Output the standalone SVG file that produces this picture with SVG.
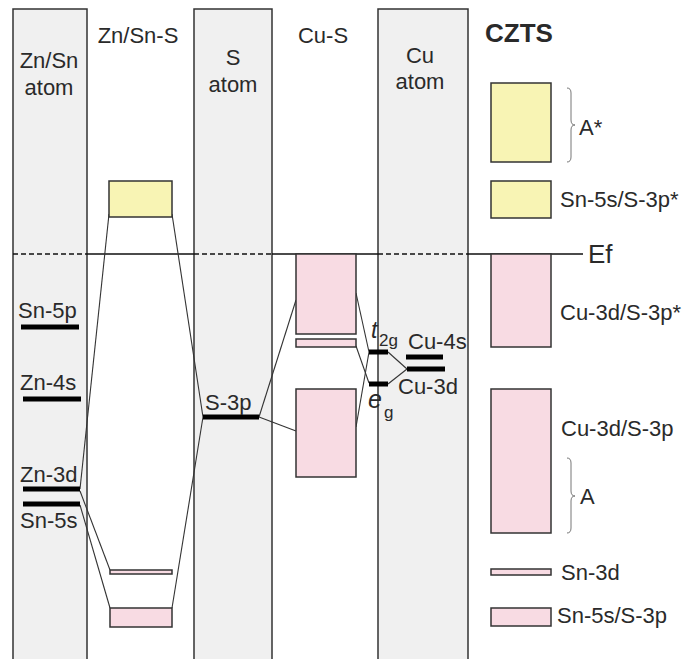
<svg xmlns="http://www.w3.org/2000/svg" width="687" height="659" viewBox="0 0 687 659">
<style>
.col{fill:#f0f0f0;stroke:#333;stroke-width:1.5}
.yel{fill:#f8f4b4;stroke:#333;stroke-width:1.5}
.pink{fill:#f8dbe3;stroke:#333;stroke-width:1.5}
.lvl{stroke:#000;stroke-width:5;fill:none}
.con{stroke:#333;stroke-width:1.1;fill:none}
.brace{stroke:#777;stroke-width:1;fill:none}
text{font-family:"Liberation Sans",Arial,sans-serif;font-size:22px;fill:#2a2a2a}
.c{text-anchor:middle}
.it{font-style:italic}
.sub{font-size:17px}
</style>
<g id="columns">
<rect id="col-znsn" class="col" x="13" y="9" width="74" height="660"/>
<rect id="col-s" class="col" x="194" y="9" width="78" height="660"/>
<rect id="col-cu" class="col" x="378" y="9" width="90" height="660"/>
</g>
<g id="ef">
<path d="M13,254H87M194,254H272M378,254H468" stroke="#111" stroke-width="1.4" stroke-dasharray="5,3"/>
<path d="M87,254H194M272,254H378M468,254H583" stroke="#111" stroke-width="1.3"/>
<text x="588" y="263" style="font-size:26px">Ef</text>
</g>
<g id="headers">
<text class="c" x="49" y="68">Zn/Sn</text>
<text class="c" x="49" y="95">atom</text>
<text class="c" x="138" y="43">Zn/Sn-S</text>
<text class="c" x="233" y="65">S</text>
<text class="c" x="233" y="92">atom</text>
<text class="c" x="323" y="43">Cu-S</text>
<text class="c" x="420" y="63">Cu</text>
<text class="c" x="420" y="89">atom</text>
<text x="485" y="42" style="font-size:26px;font-weight:bold">CZTS</text>
</g>
<g id="connectors">
<line class="con" x1="109" y1="214" x2="80" y2="489"/>
<line class="con" x1="172" y1="214" x2="203" y2="417"/>
<line class="con" x1="203" y1="417" x2="172" y2="608"/>
<line class="con" x1="80" y1="491" x2="110" y2="570"/>
<line class="con" x1="80" y1="505" x2="110" y2="608"/>
<line class="con" x1="259" y1="417" x2="296" y2="300"/>
<line class="con" x1="259" y1="417" x2="296" y2="431"/>
<line class="con" x1="356" y1="293" x2="369" y2="352"/>
<line class="con" x1="356" y1="346" x2="369" y2="383"/>
<line class="con" x1="356" y1="427" x2="369" y2="352"/>
<line class="con" x1="388" y1="352" x2="407" y2="369"/>
<line class="con" x1="388" y1="384" x2="407" y2="369"/>
</g>
<g id="znsn-atom">
<line class="lvl" x1="21" y1="327" x2="79" y2="327"/>
<text x="18" y="318">Sn-5p</text>
<line class="lvl" x1="23" y1="399" x2="81" y2="399"/>
<text x="20" y="390">Zn-4s</text>
<line class="lvl" x1="23" y1="489" x2="80" y2="489"/>
<text x="20" y="482">Zn-3d</text>
<line class="lvl" x1="23" y1="504" x2="80" y2="504"/>
<text x="20" y="528">Sn-5s</text>
</g>
<g id="znsn-s">
<rect class="yel" x="109" y="181" width="63" height="36"/>
<rect class="pink" x="110" y="570" width="62" height="4"/>
<rect class="pink" x="110" y="608" width="62" height="19"/>
</g>
<g id="s-atom">
<line class="lvl" x1="203" y1="417" x2="259" y2="417"/>
<text x="205" y="410">S-3p</text>
</g>
<g id="cu-s">
<rect class="pink" x="296" y="254" width="60" height="80"/>
<rect class="pink" x="296" y="339" width="60" height="8"/>
<rect class="pink" x="296" y="389" width="60" height="88"/>
</g>
<g id="cu-atom">
<line class="lvl" x1="369" y1="352" x2="388" y2="352"/>
<line class="lvl" x1="369" y1="384" x2="388" y2="384" stroke-width="6"/>
<line class="lvl" x1="406" y1="357" x2="443" y2="357"/>
<line class="lvl" x1="407" y1="369" x2="445" y2="369"/>
<text x="371" y="338" class="it" style="font-size:23px">t</text>
<text x="379" y="346" class="sub">2g</text>
<text x="368" y="408" class="it" style="font-size:25px">e</text>
<text x="384" y="418" class="sub">g</text>
<text x="408" y="349">Cu-4s</text>
<text x="398" y="394">Cu-3d</text>
</g>
<g id="legend">
<rect class="yel" x="491" y="83" width="60" height="79"/>
<path class="brace" d="M567,88Q571,88 571,93V120Q571,125 575,125Q571,125 571,130V157Q571,162 567,162"/>
<text x="579" y="135">A*</text>
<rect class="yel" x="491" y="181" width="60" height="37"/>
<text x="560" y="207">Sn-5s/S-3p*</text>
<rect class="pink" x="491" y="254" width="60" height="93"/>
<text x="560" y="320">Cu-3d/S-3p*</text>
<rect class="pink" x="491" y="389" width="60" height="144"/>
<text x="561" y="436">Cu-3d/S-3p</text>
<path class="brace" d="M567,458Q571,458 571,463V491Q571,496 575,496Q571,496 571,501V528Q571,533 567,533"/>
<text x="580" y="504">A</text>
<rect class="pink" x="491" y="569" width="60" height="6"/>
<text x="561" y="580">Sn-3d</text>
<rect class="pink" x="491" y="608" width="60" height="18"/>
<text x="557" y="623">Sn-5s/S-3p</text>
</g>
</svg>
